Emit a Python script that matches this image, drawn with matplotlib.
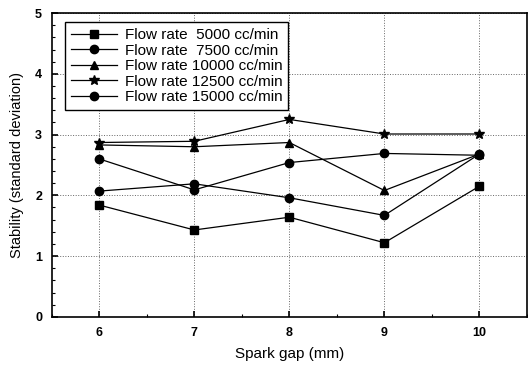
import matplotlib.pyplot as plt
from matplotlib.ticker import MultipleLocator

plt.rcParams['font.family'] = ['Liberation Sans', 'DejaVu Sans']

gap = [6, 7, 8, 9, 10]
s5000 = [1.84, 1.43, 1.64, 1.22, 2.15]
s7500 = [2.07, 2.19, 1.96, 1.67, 2.68]
s10000 = [2.83, 2.80, 2.87, 2.08, 2.68]
s12500 = [2.87, 2.89, 3.25, 3.01, 3.01]
s15000 = [2.60, 2.09, 2.54, 2.69, 2.66]
labels = ['Flow rate  5000 cc/min', 'Flow rate  7500 cc/min', 'Flow rate 10000 cc/min',
          'Flow rate 12500 cc/min', 'Flow rate 15000 cc/min']

fig = plt.figure(figsize=(5.28, 3.65), dpi=100)
ax = fig.add_axes([0.098, 0.132, 0.9, 0.832])

series = [s5000, s7500, s10000, s12500, s15000]
markers = ['s', 'o', '^', '*', 'o']
sizes = [6, 6, 6, 7, 6]
for y, m, ms, lab in zip(series, markers, sizes, labels):
    ax.plot(gap, y, color='black', lw=0.9, marker=m, markersize=ms, label=lab)

ax.set_xlim(5.5, 10.5)
ax.set_ylim(0, 5)
ax.xaxis.set_major_locator(MultipleLocator(1))
ax.xaxis.set_minor_locator(MultipleLocator(0.5))
ax.yaxis.set_major_locator(MultipleLocator(1))
ax.yaxis.set_minor_locator(MultipleLocator(0.2))
ax.tick_params(which='both', direction='in', labelsize=9)
ax.tick_params(which='major', length=4, width=1.2, pad=7)
ax.tick_params(which='minor', length=2, width=0.8)
for t in ax.get_xticklabels() + ax.get_yticklabels():
    t.set_fontweight('bold')
for s in ax.spines.values():
    s.set_linewidth(1.2)
ax.grid(True, which='major', linestyle=':', color='black', lw=0.7, alpha=0.6)

ax.set_xlabel('Spark gap (mm)', fontsize=11, labelpad=6)
ax.set_ylabel('Stability (standard deviation)', fontsize=10.5, labelpad=8)

leg = ax.legend(loc='upper left', bbox_to_anchor=(0.012, 0.996), fontsize=11,
                frameon=True, fancybox=False, edgecolor='black', framealpha=1,
                labelspacing=0.1, handlelength=3, handletextpad=0.5, borderpad=0.4)
leg.get_frame().set_linewidth(1.0)

fig.savefig('out.png', dpi=100)
